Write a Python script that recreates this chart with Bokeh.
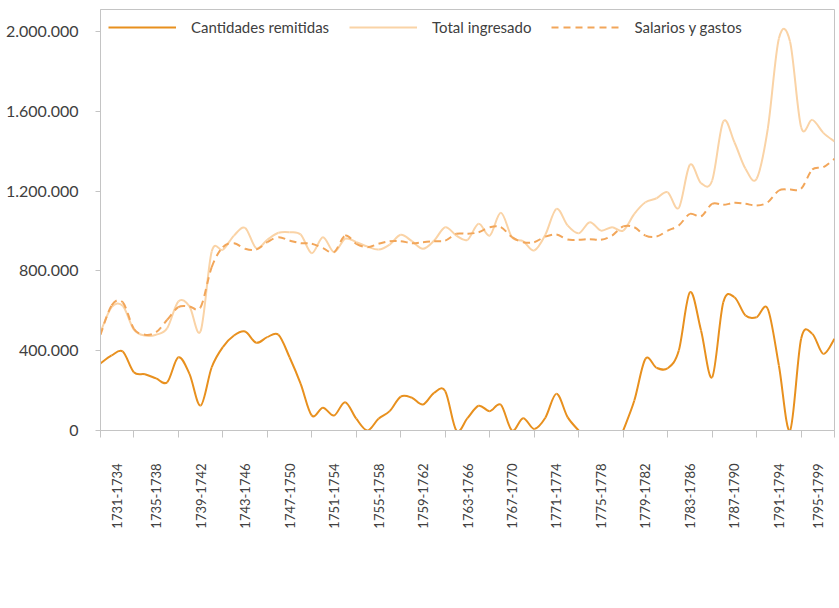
import math
import numpy as np
from bokeh.plotting import figure
from bokeh.models import Range1d, FixedTicker, Legend, LegendItem
from bokeh.embed import file_html
from bokeh.resources import INLINE

NaN = float("nan")

years = list(range(1731, 1798))

remitidas = [336000, 376000, 396000, 292000, 282000, 261000, 242000, 367000, 284000, 125000,
             317000, 418000, 476000, 496000, 440000, 468000, 480000, 367000, 234000, 75000,
             114000, 75000, 142000, 59000, 0, 59000, 97000, 170000, 164000, 130000,
             189000, 197000, 0, 62000, 124000, 97000, 129000, 0, 62000, 8000,
             64000, 184000, 67000, 0, NaN, NaN, NaN, 0, 150000, 359000,
             314000, 312000, 401000, 693000, 501000, 267000, 643000, 668000, 576000, 568000,
             610000, 326000, 0, 460000, 485000, 384000, 460000]

total = [493000, 618000, 625000, 506000, 476000, 480000, 513000, 647000, 622000, 498000,
         897000, 906000, 977000, 1016000, 914000, 956000, 991000, 994000, 982000, 889000,
         969000, 894000, 961000, 944000, 922000, 907000, 932000, 981000, 949000, 911000,
         952000, 1019000, 977000, 956000, 1036000, 977000, 1091000, 969000, 949000, 902000,
         981000, 1111000, 1028000, 989000, 1044000, 1002000, 1019000, 1002000, 1086000, 1144000,
         1164000, 1194000, 1116000, 1332000, 1240000, 1253000, 1549000, 1445000, 1312000, 1262000,
         1512000, 1965000, 1950000, 1520000, 1557000, 1492000, 1449000]

salarios = [480000, 627000, 643000, 510000, 480000, 493000, 555000, 618000, 622000, 618000,
            819000, 919000, 939000, 911000, 907000, 944000, 969000, 952000, 939000, 936000,
            914000, 894000, 977000, 936000, 919000, 936000, 949000, 949000, 939000, 944000,
            949000, 952000, 986000, 986000, 994000, 1019000, 1019000, 969000, 944000, 944000,
            972000, 982000, 957000, 956000, 959000, 956000, 977000, 1023000, 1019000, 977000,
            972000, 1002000, 1028000, 1086000, 1073000, 1136000, 1131000, 1141000, 1136000, 1128000,
            1144000, 1203000, 1208000, 1212000, 1308000, 1320000, 1362000]

period_labels = ["1731-1734", "1735-1738", "1739-1742", "1743-1746", "1747-1750",
                 "1751-1754", "1755-1758", "1759-1762", "1763-1766", "1767-1770",
                 "1771-1774", "1775-1778", "1779-1782", "1783-1786", "1787-1790",
                 "1791-1794", "1795-1799"]

y_ticks = [0, 400000, 800000, 1200000, 1600000, 2000000]

series_names = ["Cantidades remitidas", "Total ingresado", "Salarios y gastos"]

# period boundaries (tick marks) and label positions (midpoints)
boundaries = [years[0]] + [1734 + 4 * k for k in range(16)] + [years[-1]]
mids = [(boundaries[i] + boundaries[i + 1]) / 2 for i in range(len(boundaries) - 1)]


def smooth_segments(xs, ys):
    """Bezier segments between consecutive data points (Catmull-Rom style
    control points, like a 'smoothed line'); runs separated by NaN gaps."""
    xs = np.asarray(xs, dtype=float)
    ys = np.asarray(ys, dtype=float)
    out = dict(x0=[], y0=[], x1=[], y1=[], cx0=[], cy0=[], cx1=[], cy1=[])
    valid = ~np.isnan(ys)
    runs = []
    i = 0
    n = len(xs)
    while i < n:
        if valid[i]:
            j = i
            while j + 1 < n and valid[j + 1]:
                j += 1
            runs.append((i, j))
            i = j + 1
        else:
            i += 1
    for a, b in runs:
        px, py = xs[a:b + 1], ys[a:b + 1]
        m = len(px)
        for k in range(m - 1):
            km1 = max(k - 1, 0)
            kp2 = min(k + 2, m - 1)
            out["x0"].append(px[k]); out["y0"].append(py[k])
            out["x1"].append(px[k + 1]); out["y1"].append(py[k + 1])
            out["cx0"].append(px[k] + (px[k + 1] - px[km1]) / 6.0)
            out["cy0"].append(py[k] + (py[k + 1] - py[km1]) / 6.0)
            out["cx1"].append(px[k + 1] - (px[kp2] - px[k]) / 6.0)
            out["cy1"].append(py[k + 1] - (py[kp2] - py[k]) / 6.0)
    return out


W, H = 839, 608
p = figure(width=W, height=H, output_backend="svg", toolbar_location=None,
           x_range=Range1d(years[0], years[-1]), y_range=Range1d(0, 2110276),
           min_border_left=100, min_border_right=5, min_border_top=9, min_border_bottom=178)

p.background_fill_color = "white"
p.border_fill_color = "white"
p.outline_line_color = "#c4c4c4"
p.outline_line_width = 1
p.xgrid.grid_line_color = None
p.ygrid.grid_line_color = None

r_tot = p.bezier(**smooth_segments(years, total), line_color="#FAD3A6", line_width=2)
r_sal = p.bezier(**smooth_segments(years, salarios), line_color="#F2A65A", line_width=2,
                 line_dash="7 5")
r_rem = p.bezier(**smooth_segments(years, remitidas), line_color="#E8901E", line_width=2)

# y axis
p.yaxis.ticker = FixedTicker(ticks=y_ticks)
p.yaxis.major_label_overrides = {v: f"{v:,}".replace(",", ".") for v in y_ticks}
p.yaxis.axis_line_color = "#c4c4c4"
p.yaxis.major_tick_line_color = "#c4c4c4"
p.yaxis.major_tick_out = 5
p.yaxis.major_tick_in = 0
p.yaxis.minor_tick_line_color = None
p.yaxis.major_label_standoff = 17
p.yaxis.major_label_text_font = "Lato"
p.yaxis.major_label_text_font_size = "16px"
p.yaxis.major_label_text_color = "#404040"

# x axis
p.xaxis.ticker = FixedTicker(ticks=mids, minor_ticks=boundaries)
p.xaxis.major_label_overrides = {m: lab for m, lab in zip(mids, period_labels)}
p.xaxis.axis_line_color = "#c4c4c4"
p.xaxis.major_tick_line_color = None
p.xaxis.major_tick_in = 0
p.xaxis.major_tick_out = 0
p.xaxis.minor_tick_line_color = "#c4c4c4"
p.xaxis.minor_tick_in = 0
p.xaxis.minor_tick_out = 7
p.xaxis.major_label_orientation = math.pi / 2
p.xaxis.major_label_standoff = 26
p.xaxis.major_label_text_font = "Lato"
p.xaxis.major_label_text_font_size = "13px"
p.xaxis.major_label_text_color = "#404040"

legend = Legend(items=[LegendItem(label=series_names[0], renderers=[r_rem]),
                       LegendItem(label=series_names[1], renderers=[r_tot]),
                       LegendItem(label=series_names[2], renderers=[r_sal])],
                location="top_left", orientation="horizontal",
                glyph_width=68, glyph_height=18, label_height=20, label_standoff=15,
                spacing=20, padding=0, margin=8, background_fill_alpha=0,
                border_line_color=None,
                label_text_font="Lato", label_text_font_size="15px",
                label_text_color="#404040")
p.add_layout(legend)

open("out.html", "w").write(file_html(p, INLINE))
